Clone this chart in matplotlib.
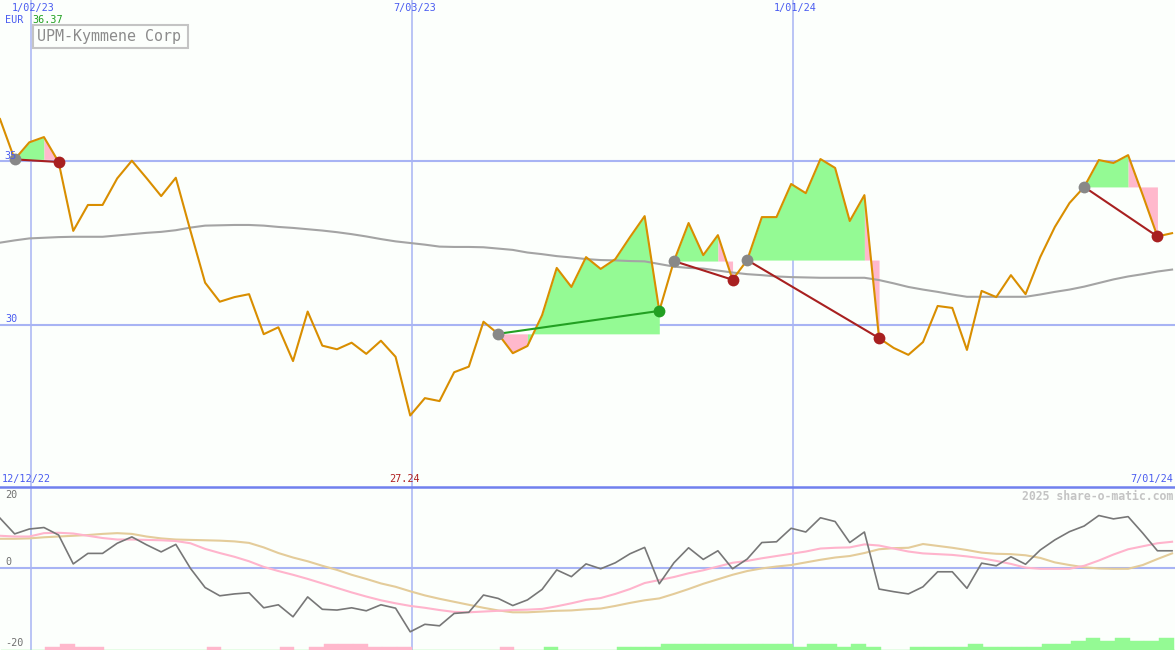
import numpy as np
import pandas as pd
import matplotlib
matplotlib.use("Agg")
import matplotlib.pyplot as plt
from matplotlib.lines import Line2D
from matplotlib.patches import Rectangle

# weekly closes, UPM-Kymmene (EUR), first week starts 18 Dec 2022
start = pd.Timestamp("2022-12-18")
grid_dates = ["2023-01-02", "2023-07-03", "2024-01-01"]
grid_labels = ["1/02/23", "7/03/23", "1/01/24"]

price = [36.28, 35.05, 35.57, 35.73, 34.97, 32.87, 33.66, 33.66, 34.47, 35.01,
         34.48, 33.93, 34.49, 32.87, 31.29, 30.71, 30.85, 30.94, 29.72, 29.93,
         28.90, 30.41, 29.37, 29.26, 29.46, 29.12, 29.52, 29.03, 27.24, 27.77,
         27.68, 28.56, 28.73, 30.10, 29.73, 29.14, 29.36, 30.30, 31.74, 31.16,
         32.07, 31.71, 32.01, 32.68, 33.32, 30.43, 31.95, 33.11, 32.13, 32.74,
         31.38, 31.98, 33.29, 33.29, 34.30, 34.02, 35.06, 34.79, 33.17, 33.96,
         29.60, 29.30, 29.09, 29.48, 30.58, 30.52, 29.24, 31.04, 30.85, 31.52,
         30.94, 32.07, 32.99, 33.72, 34.21, 35.03, 34.94, 35.18, 33.96, 32.70,
         32.80]

avg_long = [32.51, 32.58, 32.64, 32.66, 32.68, 32.69, 32.69, 32.69, 32.73, 32.77,
            32.81, 32.84, 32.89, 32.97, 33.03, 33.04, 33.05, 33.05, 33.03, 32.99,
            32.96, 32.92, 32.88, 32.83, 32.77, 32.70, 32.62, 32.55, 32.50, 32.45,
            32.39, 32.38, 32.38, 32.37, 32.33, 32.29, 32.21, 32.16, 32.10, 32.06,
            32.01, 31.98, 31.97, 31.95, 31.94, 31.86, 31.78, 31.74, 31.72, 31.66,
            31.60, 31.55, 31.52, 31.48, 31.46, 31.45, 31.44, 31.44, 31.44, 31.44,
            31.37, 31.27, 31.16, 31.08, 31.01, 30.93, 30.86, 30.86, 30.86, 30.86,
            30.86, 30.93, 31.01, 31.08, 31.17, 31.28, 31.39, 31.48, 31.55, 31.63,
            31.69]

osc = [13.2, 9.0, 10.3, 10.7, 8.7, 1.0, 3.8, 3.8, 6.5, 8.2,
       6.1, 4.2, 6.2, -0.2, -5.3, -7.5, -7.0, -6.7, -10.7, -9.9,
       -13.1, -7.8, -11.1, -11.3, -10.7, -11.5, -9.9, -10.8, -17.1, -15.1,
       -15.5, -12.2, -11.9, -7.3, -8.2, -10.1, -8.6, -5.8, -0.6, -2.4,
       1.0, -0.3, 1.3, 3.7, 5.4, -4.3, 1.3, 5.3, 2.2, 4.5,
       -0.3, 2.3, 6.7, 6.9, 10.5, 9.5, 13.3, 12.3, 6.7, 9.5,
       -5.7, -6.4, -7.0, -5.1, -1.1, -1.1, -5.5, 1.2, 0.5, 2.9,
       0.9, 4.7, 7.4, 9.6, 11.1, 13.9, 13.0, 13.6, 9.2, 4.5,
       4.5]

osc_fast = [8.5, 8.3, 8.3, 9.2, 9.3, 9.1, 8.5, 7.9, 7.5, 7.5,
            7.4, 7.3, 7.1, 6.5, 5.0, 3.9, 2.9, 1.7, 0.2, -0.9,
            -1.9, -3.0, -4.2, -5.4, -6.6, -7.7, -8.7, -9.5, -10.2, -10.7,
            -11.3, -11.8, -11.9, -11.7, -11.5, -11.3, -11.2, -11.0, -10.3, -9.5,
            -8.6, -8.1, -7.0, -5.7, -4.1, -3.3, -2.5, -1.5, -0.7, 0.3,
            1.3, 1.8, 2.5, 3.1, 3.7, 4.3, 5.1, 5.3, 5.4, 6.2,
            5.9, 5.1, 4.3, 3.8, 3.6, 3.4, 3.0, 2.5, 1.8, 1.0,
            0.0, -0.3, -0.3, -0.3, 0.5, 1.9, 3.5, 4.9, 5.7, 6.5,
            6.9]

osc_slow = [7.7, 7.7, 7.8, 8.1, 8.3, 8.5, 8.7, 9.0, 9.2, 9.0,
            8.3, 7.8, 7.5, 7.4, 7.3, 7.2, 7.0, 6.6, 5.4, 3.9,
            2.7, 1.7, 0.5, -0.6, -1.9, -3.0, -4.2, -5.1, -6.3, -7.4,
            -8.3, -9.1, -9.9, -10.7, -11.4, -11.9, -11.9, -11.7, -11.5, -11.4,
            -11.1, -10.9, -10.2, -9.4, -8.7, -8.2, -7.0, -5.7, -4.3, -3.1,
            -1.9, -0.9, -0.2, 0.3, 0.7, 1.4, 2.1, 2.7, 3.1, 3.9,
            4.9, 5.2, 5.3, 6.3, 5.8, 5.3, 4.7, 4.0, 3.7, 3.6,
            3.3, 2.6, 1.4, 0.7, 0.1, -0.2, -0.3, -0.3, 0.7, 2.3,
            3.8]

# weekly signal strength, negative = pink, positive = green
signal_bars = [0, 0, 0, -1, -2, -1, -1, 0, 0, 0,
               0, 0, 0, 0, -1, 0, 0, 0, 0, -1,
               0, -1, -2, -2, -2, -1, -1, -1, 0, 0,
               0, 0, 0, 0, -1, 0, 0, 1, 0, 0,
               0, 0, 1, 1, 1, 2, 2, 2, 2, 2,
               2, 2, 2, 2, 1, 2, 2, 1, 2, 1,
               0, 0, 1, 1, 1, 1, 2, 1, 1, 1,
               1, 2, 2, 3, 4, 3, 4, 3, 3, 4,
               0]

# (buy week, sell week)
trades = [(1, 4), (34, 45), (46, 50), (51, 60), (74, 79)]

W, H = 1175, 650
bg = "#fcfffc"
grid_c = "#a8b4f4"
blue_txt = "#4a5cf0"
green_fill = "#94fa94"
pink_fill = "#ffb8cc"
mono = "DejaVu Sans Mono"

x = np.arange(len(price))
price = np.array(price)
grid_x = [(pd.Timestamp(d) - start).days / 7 for d in grid_dates]
xmax = 80.2

fig = plt.figure(figsize=(W / 100, H / 100), dpi=100, facecolor=bg)
ax = fig.add_axes([0, 163 / H, 1, 487 / H])
ax2 = fig.add_axes([0, 0, 1, 163 / H])
for a in (ax, ax2):
    a.set_axis_off()
    a.set_xlim(0, xmax)
ax.set_ylim(25.06, 39.91)
ax2.set_ylim(-21.95, 21.5)

# --- top panel ---
for gx in grid_x:
    ax.axvline(gx, color=grid_c, lw=1.1, zorder=1)
    ax2.axvline(gx, color=grid_c, lw=1.1, zorder=1)
for lv in (30, 35):
    ax.axhline(lv, color=grid_c, lw=1.5, zorder=1)

# gain / loss areas against the buy level, one fill per run of same colour
for b, s in trades:
    level = price[b]
    cols = [green_fill if price[k + 1] >= level else pink_fill for k in range(b, s)]
    k0 = b
    for j in range(1, len(cols) + 1):
        if j == len(cols) or cols[j] != cols[j - 1]:
            k1 = b + j
            ax.fill_between(x[k0:k1 + 1], price[k0:k1 + 1], level,
                            color=cols[j - 1], lw=0, zorder=2)
            k0 = k1

ax.plot(x, avg_long, color="#a4a4a4", lw=1.5, zorder=3)
ax.plot(x, price, color="#d98e00", lw=1.5, zorder=4)

for b, s in trades:
    win = price[s] > price[b]
    lc = "#22a022" if win else "#a82020"
    ax.plot([b, s], [price[b], price[s]], color=lc, lw=1.5, zorder=5)
    ax.plot(b, price[b], "o", ms=8.5, color="#888888", mec="none", zorder=6)
    ax.plot(s, price[s], "o", ms=8.5, color=lc, mec="none", zorder=6)

# --- bottom panel ---
ax2.axhline(0, color=grid_c, lw=1.5, zorder=1)
ax2.plot(x, osc_slow, color="#e4cc9a", lw=1.5, zorder=2)
ax2.plot(x, osc_fast, color="#ffb4cc", lw=1.5, zorder=3)
ax2.plot(x, osc, color="#777777", lw=1.2, zorder=4)
sig = np.array(signal_bars)
bar_c = [pink_fill if v < 0 else green_fill for v in sig]
ax2.bar(x + 0.1, np.abs(sig) * 0.8, width=1.0, align="edge", bottom=-21.95,
        color=bar_c, ec=bar_c, lw=0.3, zorder=2)

fig.add_artist(Line2D([0, 1], [1 - 487 / H] * 2, color="#7080ee", lw=1.8))


def put(px, py, s, **kw):
    kw.setdefault("family", mono)
    kw.setdefault("fontsize", 7.3)
    kw.setdefault("va", "center")
    fig.text(px / W, 1 - py / H, s, zorder=3, **kw)


for gx, lab in zip(grid_x, grid_labels):
    put(gx * W / xmax + 2, 8, lab, color=blue_txt, ha="center")
put(5, 20, "EUR", color=blue_txt)
put(32, 20, "36.37", color="#20a020")
fig.add_artist(Rectangle((33 / W, 1 - 48 / H), 155 / W, 23 / H, transform=fig.transFigure,
                         fill=False, ec="#c4c4c4", lw=1.5))
put(37, 37, "UPM-Kymmene Corp", color="#8c8c8c", fontsize=10.8)
put(4, 156, "35", color=blue_txt)
put(5, 319, "30", color=blue_txt)
put(2, 479, "12/12/22", color=blue_txt)
put(405, 479, "27.24", color="#b02020", ha="center")
put(1173, 479, "7/01/24", color=blue_txt, ha="right")
put(1173, 496, "2025 share-o-matic.com", color="#c4c4c4", fontsize=8.3,
    weight="bold", ha="right")
put(5, 495, "20", color="#707070")
put(5, 562, "0", color="#707070")
put(5, 643, "-20", color="#707070")

fig.savefig("out.png", dpi=100, facecolor=bg)
